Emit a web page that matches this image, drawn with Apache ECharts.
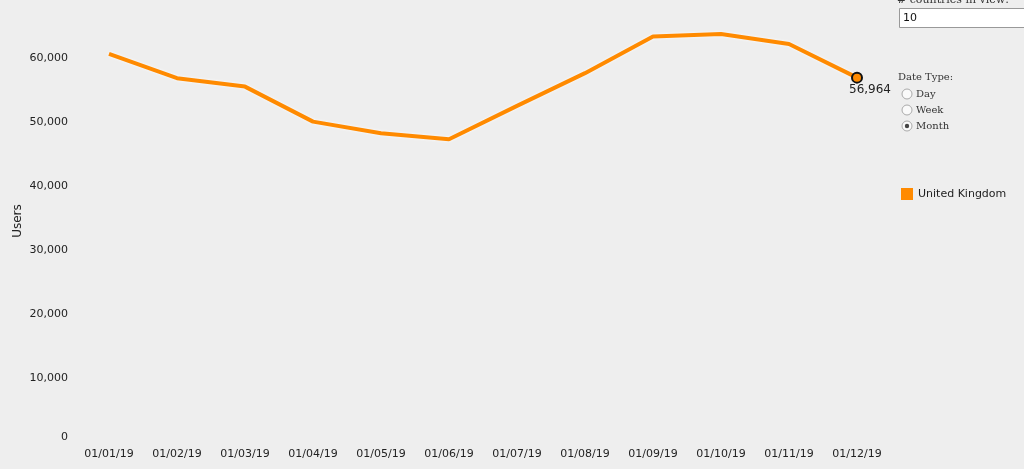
<!DOCTYPE html>
<html>
<head>
<meta charset="utf-8">
<script src="https://cdn.jsdelivr.net/npm/echarts@6/dist/echarts.min.js"></script>
<style>
  html, body { margin: 0; padding: 0; background: #eeeeee; }
  #chart { width: 1024px; height: 469px; }
</style>
</head>
<body>
<div id="chart"></div>
<script>
// monthly users
const months = ["01/01/19", "01/02/19", "01/03/19", "01/04/19", "01/05/19", "01/06/19",
  "01/07/19", "01/08/19", "01/09/19", "01/10/19", "01/11/19", "01/12/19"];
const ukUsers = [60670, 56880, 55560, 50090, 48280, 47340, 52550, 57660, 63380, 63800, 62230, 56964];
const dateTypes = ["Day", "Week", "Month"];
const selectedType = "Month";

const orange = "#ff8a00";
const chart = echarts.init(document.getElementById("chart"));

const lastIdx = ukUsers.length - 1;
const lineData = ukUsers.map((v, i) => i === lastIdx ? {
  value: v,
  symbol: "circle",
  symbolSize: 10,
  itemStyle: { color: orange, borderColor: "#111", borderWidth: 2 },
  label: {
    show: true, position: "bottom", distance: 2, offset: [13, -2],
    formatter: p => p.value.toLocaleString("en-US"),
    color: "#222", fontSize: 12, fontFamily: "DejaVu Sans"
  }
} : { value: v, symbol: "none" });

// little form controls on the right side
const graphics = [
  { type: "text", style: { x: 897, y: 0, text: "# countries in view:", font: "11px 'DejaVu Serif'", fill: "#333", verticalAlign: "middle" } },
  { type: "rect", shape: { x: 899.5, y: 8.5, width: 130, height: 19 }, style: { fill: "#fff", stroke: "#999", lineWidth: 1 } },
  { type: "text", style: { x: 903, y: 18, text: "10", font: "11px 'DejaVu Sans'", fill: "#111", verticalAlign: "middle" } },
  { type: "text", style: { x: 898, y: 77, text: "Date Type:", font: "10px 'DejaVu Serif'", fill: "#333", verticalAlign: "middle" } }
];
dateTypes.forEach((t, i) => {
  const cy = 94 + i * 16;
  graphics.push({ type: "circle", shape: { cx: 907, cy: cy, r: 5 }, style: { fill: "#fafafa", stroke: "#aaa", lineWidth: 1 } });
  if (t === selectedType) {
    graphics.push({ type: "circle", shape: { cx: 907, cy: cy, r: 2.2 }, style: { fill: "#444" } });
  }
  graphics.push({ type: "text", style: { x: 916, y: cy, text: t, font: "10px 'DejaVu Serif'", fill: "#333", verticalAlign: "middle" } });
});

chart.setOption({
  backgroundColor: "#eeeeee",
  animation: false,
  grid: { left: 75, right: 133, top: 0, bottom: 27, outerBoundsMode: "none" },
  legend: {
    left: 896, top: 183, orient: "vertical",
    icon: "rect", itemWidth: 12, itemHeight: 12, itemGap: 6,
    textStyle: { color: "#222", fontSize: 11, fontFamily: "DejaVu Sans" },
    data: ["United Kingdom"]
  },
  xAxis: {
    type: "category",
    data: months,
    boundaryGap: true,
    axisLine: { show: false },
    axisTick: { show: false },
    axisLabel: { color: "#222", fontSize: 11, fontFamily: "DejaVu Sans", margin: 7, interval: 0 }
  },
  yAxis: {
    type: "value",
    min: 0, max: 69100, interval: 10000,
    name: "Users", nameLocation: "middle", nameGap: 51, nameMoveOverlap: false,
    nameTextStyle: { color: "#222", fontSize: 12, fontFamily: "DejaVu Sans" },
    splitLine: { show: false },
    axisLine: { show: false },
    axisTick: { show: false },
    axisLabel: {
      color: "#222", fontSize: 11, fontFamily: "DejaVu Sans", margin: 7,
      showMaxLabel: false,
      formatter: v => v === 0 ? "{zero|0}" : v.toLocaleString("en-US"),
      rich: { zero: { color: "#222", fontSize: 11, fontFamily: "DejaVu Sans", padding: [0, 0, 10, 0] } }
    }
  },
  series: [{
    name: "United Kingdom",
    type: "line",
    data: lineData,
    color: orange,
    lineStyle: { width: 4, color: orange, shadowColor: "rgba(255,255,255,0.95)", shadowBlur: 3 },
    z: 3
  }],
  graphic: graphics
});
</script>
</body>
</html>
